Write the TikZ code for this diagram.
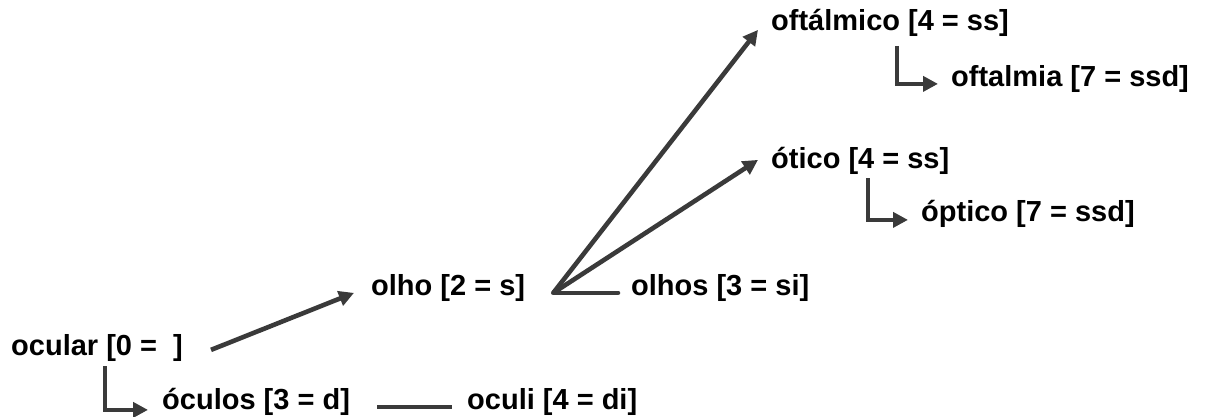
\documentclass[tikz,border=0pt]{standalone}
\usepackage{fontspec}
\setmainfont{Liberation Sans}
\usepackage{xcolor}
\usetikzlibrary{arrows.meta}
\usetikzlibrary{positioning}

\definecolor{linkgray}{HTML}{3A3A3A}

\begin{document}
\begin{tikzpicture}[x=1pt, y=1pt,
    every node/.style={inner sep=0pt, anchor=base west, text height=0.73em, text depth=0.21em,
      font=\bfseries\fontsize{29}{34}\selectfont},
    link/.style={draw=linkgray, line width=4.6pt},
    arr/.style={link, -{Triangle[length=15pt, width=15pt]}}]
        \useasboundingbox (0,0) rectangle (1211,417);
        % words
        \node (ocular) at (11,61.5) {ocular [0 =\ \ ]};
        \node (oculos) at (162,7.5) {óculos [3 = d]};
        \node (oculi) at (467,7.5) {oculi [4 = di]};
        \node (olho) at (371,121.5) {olho [2 = s]};
        \node (olhos) at (631,121.5) {olhos [3 = si]};
        \node (oftalmico) at (771,386.5) {oftálmico [4 = ss]};
        \node (oftalmia) at (951,330.5) {oftalmia [7 = ssd]};
        \node (otico) at (771,248.5) {ótico [4 = ss]};
        \node (optico) at (921,195.5) {óptico [7 = ssd]};
        % links
        \coordinate (fork) at ([xshift=28pt]olho.east);
        \draw[arr] ([xshift=28pt,yshift=3pt]ocular.east) -- ([xshift=-17pt]olho.west);
        \draw[arr] ([xshift=94pt,yshift=-8.5pt]ocular.south west) |- ([xshift=-14pt,yshift=-3pt]oculos.west);
        \draw[link] ([xshift=27pt]oculos.east) -- ([xshift=-15pt]oculi.west);
        \draw[link, line cap=round] (fork) -- ([xshift=-13pt]olhos.west);
        \draw[arr] (fork) -- ([xshift=-13pt,yshift=-2pt]oftalmico.west);
        \draw[arr] (fork) -- ([xshift=-13pt,yshift=6pt]otico.west);
        \draw[arr] ([xshift=126pt,yshift=-13pt]oftalmico.south west) |- ([xshift=-13pt]oftalmia.west);
        \draw[arr] ([xshift=97pt,yshift=-7.5pt]otico.south west) |- ([xshift=-13pt,yshift=-1pt]optico.west);
      \end{tikzpicture}
\end{document}
